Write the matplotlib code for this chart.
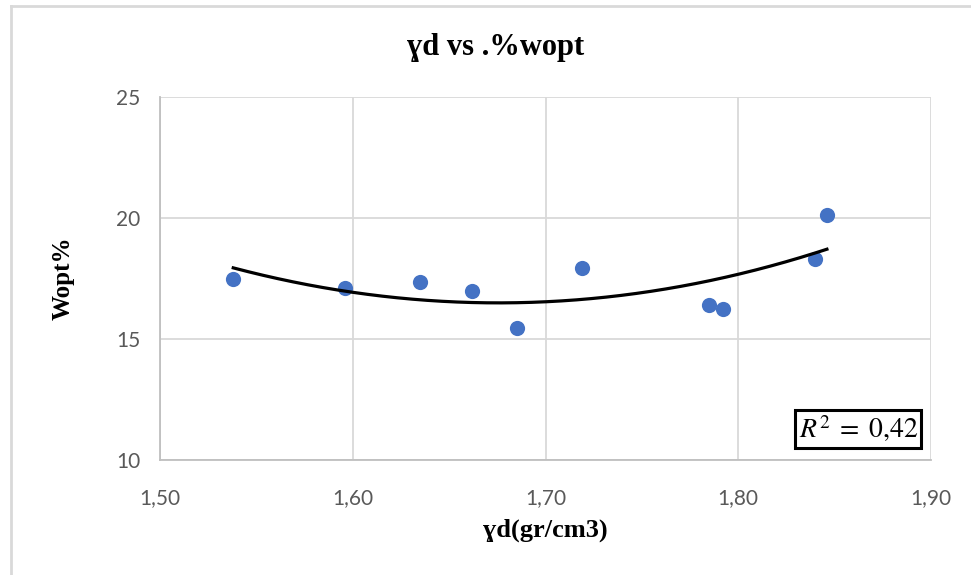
import numpy as np
import matplotlib
matplotlib.use("Agg")
import matplotlib.pyplot as plt
from matplotlib.lines import Line2D

# dry density vs optimum water content
gamma_d = [1.538, 1.596, 1.635, 1.662, 1.685, 1.719, 1.785, 1.792, 1.840, 1.846]
w_opt = [17.48, 17.10, 17.37, 16.98, 15.45, 17.95, 16.40, 16.24, 18.29, 20.12]

x_ticks = [1.50, 1.60, 1.70, 1.80, 1.90]
x_tick_labels = ["1,50", "1,60", "1,70", "1,80", "1,90"]
y_ticks = [10, 15, 20, 25]

plt.rcParams['mathtext.fontset'] = 'stix'
serif = ['Liberation Serif', 'DejaVu Serif']

fig = plt.figure(figsize=(9.71, 5.75), dpi=100)
ax = fig.add_axes([160 / 971, 1 - 460 / 575, 771 / 971, 363 / 575])

# chart frame (light gray, left and top only as in the reference)
fig.add_artist(Line2D([11 / 971, 11 / 971], [0, 1 - 6 / 575], transform=fig.transFigure,
                      color='#d9d9d9', lw=2))
fig.add_artist(Line2D([11 / 971, 1], [1 - 6 / 575, 1 - 6 / 575], transform=fig.transFigure,
                      color='#d9d9d9', lw=2))

ax.scatter(gamma_d, w_opt, s=120, color='#4472C4', zorder=3, linewidths=0)

# 2nd order polynomial trendline
coef = np.polyfit(gamma_d, w_opt, 2)
xs = np.linspace(min(gamma_d), max(gamma_d), 200)
ax.plot(xs, np.polyval(coef, xs), color='black', lw=2.3, zorder=4)

ax.set_xlim(1.50, 1.90)
ax.set_ylim(10, 25)
ax.set_xticks(x_ticks)
ax.set_xticklabels(x_tick_labels)
ax.set_yticks(y_ticks)
ax.grid(True, color='#d9d9d9', lw=1.3)
ax.set_axisbelow(True)
for s in ['top', 'right']:
    ax.spines[s].set_visible(False)
for s in ['left', 'bottom']:
    ax.spines[s].set_color('#bfbfbf')
    ax.spines[s].set_linewidth(1.3)
ax.tick_params(length=0, labelsize=15, labelcolor='#595959')
ax.tick_params(axis='x', pad=20)
ax.tick_params(axis='y', pad=14)
for lab in ax.get_xticklabels() + ax.get_yticklabels():
    lab.set_family('Lato')

ax.set_xlabel('ɣd(gr/cm3)', family=serif, fontweight='bold', fontsize=19, labelpad=8)
ax.set_ylabel('Wopt%', family=serif, fontweight='bold', fontsize=18, labelpad=30)
fig.text(0.51, 1 - 47 / 575, 'ɣd vs .%wopt', family=serif, fontweight='bold',
         fontsize=22, ha='center', va='center')

ax.text(0.983, 0.043, r'$R^2\;=\;0{,}42$', transform=ax.transAxes, ha='right', va='bottom',
        fontsize=20, bbox=dict(boxstyle='square,pad=0.12', fc='white', ec='black', lw=2.2),
        zorder=5)

fig.savefig('out.png', dpi=100)
